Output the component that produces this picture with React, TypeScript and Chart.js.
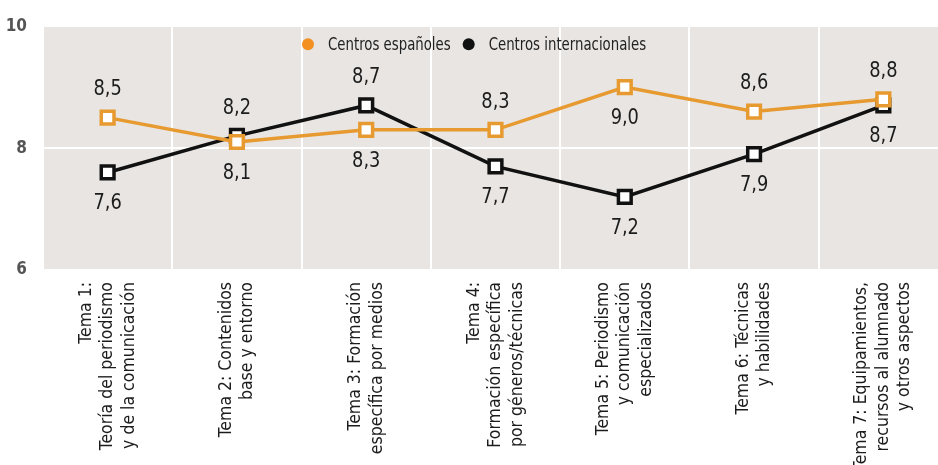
import React, { useEffect, useRef } from "react";
import { Chart, registerables } from "chart.js";

Chart.register(...registerables);

const categories: string[][] = [
  ["Tema 1:", "Teoría del periodismo", "y de la comunicación"],
  ["Tema 2: Contenidos", "base y entorno"],
  ["Tema 3: Formación", "específica por medios"],
  ["Tema 4:", "Formación específica", "por géneros/técnicas"],
  ["Tema 5: Periodismo", "y comunicación", "especializados"],
  ["Tema 6: Técnicas", "y habilidades"],
  ["Tema 7: Equipamientos,", "recursos al alumnado", "y otros aspectos"],
];

const seriesNames = ["Centros españoles", "Centros internacionales"];
const espanoles = [8.5, 8.1, 8.3, 8.3, 9.0, 8.6, 8.8];
const internacionales = [7.6, 8.2, 8.7, 7.7, 7.2, 7.9, 8.7];
// label placement: 1 = above point, -1 = below point
const espanolesLabelSide = [1, -1, -1, 1, -1, 1, 1];
const internacionalesLabelSide = [-1, 1, 1, -1, -1, -1, -1];
const yTicks = [6, 8, 10];

const FONT = "'DejaVu Sans Condensed', 'Liberation Sans Narrow', 'Arial Narrow', sans-serif";
const ORANGE = "#e79a30";
const ORANGE_LEGEND = "#f39122";
const BLACK = "#111111";

const bgPlugin = {
  id: "plotBg",
  beforeDraw(chart: any) {
    const { ctx, chartArea } = chart;
    ctx.save();
    ctx.fillStyle = "#e8e5e3";
    ctx.fillRect(chartArea.left, chartArea.top, chartArea.right - chartArea.left, chartArea.bottom - chartArea.top);
    ctx.restore();
  },
};

const xLabelPlugin = {
  id: "xLabels",
  afterDraw(chart: any) {
    const { ctx, chartArea } = chart;
    const xs = chart.scales.x;
    const lh = 21.5;
    ctx.save();
    ctx.font = `17.5px ${FONT}`;
    ctx.fillStyle = "#1c1c1c";
    ctx.textAlign = "right";
    ctx.textBaseline = "middle";
    categories.forEach((lines, i) => {
      const cx = xs.getPixelForValue(i);
      const n = lines.length;
      lines.forEach((line, j) => {
        const px = cx + (j - (n - 1) / 2) * lh;
        ctx.save();
        ctx.translate(px, chartArea.bottom + 12);
        ctx.rotate(-Math.PI / 2);
        ctx.fillText(line, 0, 0);
        ctx.restore();
      });
    });
    ctx.restore();
  },
};

const labelPlugin = {
  id: "valueLabels",
  afterDatasetsDraw(chart: any) {
    const { ctx } = chart;
    const sides = [espanolesLabelSide, internacionalesLabelSide];
    ctx.save();
    ctx.font = `22px ${FONT}`;
    ctx.fillStyle = "#1c1c1c";
    ctx.textAlign = "center";
    ctx.textBaseline = "middle";
    chart.data.datasets.forEach((ds: any, di: number) => {
      const meta = chart.getDatasetMeta(di);
      meta.data.forEach((pt: any, i: number) => {
        const v = ds.data[i] as number;
        const txt = v.toFixed(1).replace(".", ",");
        const side = sides[di][i];
        const y = side > 0 ? pt.y - 28 : pt.y + 31;
        ctx.save();
        ctx.translate(pt.x, y);
        ctx.scale(0.9, 1);
        ctx.fillText(txt, 0, 0);
        ctx.restore();
      });
    });
    ctx.restore();
  },
};

const legendPlugin = {
  id: "innerLegend",
  afterDraw(chart: any) {
    const { ctx, chartArea } = chart;
    const colors = [ORANGE_LEGEND, BLACK];
    const sx = 0.87;
    ctx.save();
    ctx.font = `17px ${FONT}`;
    ctx.textBaseline = "middle";
    ctx.textAlign = "left";
    const gap = 12;
    const dotR = 6;
    const widths = seriesNames.map((n) => ctx.measureText(n).width * sx);
    let x = 302;
    const y = chartArea.top + 18;
    seriesNames.forEach((n, i) => {
      ctx.fillStyle = colors[i];
      ctx.beginPath();
      ctx.arc(x + dotR, y, dotR, 0, Math.PI * 2);
      ctx.fill();
      x += dotR * 2 + 14;
      ctx.fillStyle = "#222222";
      ctx.save();
      ctx.translate(x, y + 1);
      ctx.scale(sx, 1);
      ctx.fillText(n, 0, 0);
      ctx.restore();
      x += widths[i] + gap;
    });
    ctx.restore();
  },
};

export default function App() {
  const ref = useRef<HTMLCanvasElement | null>(null);

  useEffect(() => {
    document.body.style.margin = "0";
    if (!ref.current) return;
    const chart = new Chart(ref.current, {
      type: "line",
      data: {
        labels: categories.map((c) => c.join(" ")),
        datasets: [
          {
            label: seriesNames[0],
            data: espanoles,
            borderColor: ORANGE,
            backgroundColor: ORANGE,
            borderWidth: 3.5,
            pointStyle: "rect",
            pointRadius: 9,
            pointBorderWidth: 3.5,
            pointBackgroundColor: "#ffffff",
            pointBorderColor: ORANGE,
            tension: 0,
          },
          {
            label: seriesNames[1],
            data: internacionales,
            borderColor: BLACK,
            backgroundColor: BLACK,
            borderWidth: 3.5,
            pointStyle: "rect",
            pointRadius: 9,
            pointBorderWidth: 3.5,
            pointBackgroundColor: "#ffffff",
            pointBorderColor: BLACK,
            tension: 0,
          },
        ],
      },
      options: {
        responsive: false,
        animation: false,
        devicePixelRatio: 1,
        layout: { autoPadding: false, padding: { top: 23, left: 0, right: 0, bottom: 0 } },
        plugins: {
          legend: { display: false },
          tooltip: { enabled: false },
        },
        scales: {
          x: {
            type: "category",
            offset: true,
            grid: { offset: true, color: "#ffffff", lineWidth: 2, drawTicks: false },
            border: { display: false },
            ticks: { display: false },
            afterFit(scale: any) {
              scale.height = 195;
            },
          },
          y: {
            min: 6,
            max: 10,
            afterBuildTicks(scale: any) {
              scale.ticks = yTicks.map((v) => ({ value: v }));
            },
            grid: { color: "#ffffff", lineWidth: 2, drawTicks: false },
            border: { display: false },
            ticks: {
              padding: 16,
              color: "#555555",
              font: { family: FONT, size: 17, weight: "bold" },
            },
            afterFit(scale: any) {
              scale.width = 43;
            },
          },
        },
      },
      plugins: [bgPlugin, labelPlugin, legendPlugin, xLabelPlugin],
    } as any);
    return () => chart.destroy();
  }, []);

  return (
    <div style={{ width: 938, height: 465, overflow: "hidden", position: "relative" }}>
      <canvas ref={ref} width={948} height={465} style={{ width: 948, height: 465, display: "block" }} />
    </div>
  );
}
